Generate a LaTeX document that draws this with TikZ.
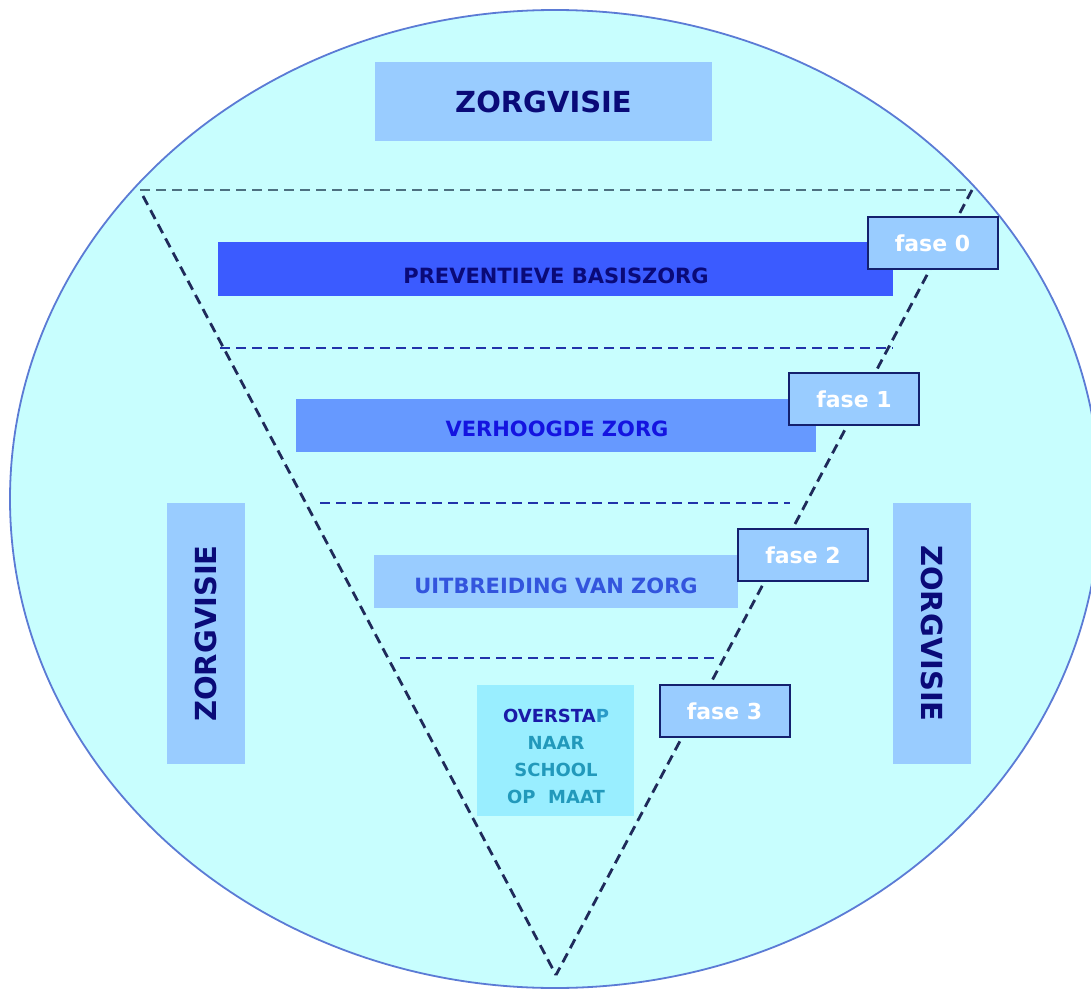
\documentclass[tikz,border=0pt]{standalone}
\usepackage{fontspec}
\setmainfont{DejaVu Sans}
\definecolor{bgc}{HTML}{C8FEFE}
\definecolor{rimc}{HTML}{5B7BD5}
\definecolor{lightbox}{HTML}{99CCFF}
\definecolor{prevc}{HTML}{3B5BFF}
\definecolor{verhc}{HTML}{6699FF}
\definecolor{overc}{HTML}{99EEFF}
\definecolor{navyc}{HTML}{0A0A78}
\definecolor{fasebd}{HTML}{14206E}
\definecolor{verhtxt}{HTML}{1414E0}
\definecolor{uitbtxt}{HTML}{3355DD}
\definecolor{ovtxtA}{HTML}{1A1AA8}
\definecolor{ovtxtB}{HTML}{2A9AC8}
\definecolor{ovtxtC}{HTML}{2299BB}
\definecolor{topdashc}{HTML}{4D7080}
\definecolor{sidedashc}{HTML}{1F2A5A}
\definecolor{middashc}{HTML}{2233AA}
\begin{document}
\begin{tikzpicture}[x=1pt,y=-1pt,
  dashline/.style={line width=2.8pt, dash pattern=on 10pt off 6pt},
  bar/.style={rectangle, draw=none, inner sep=0pt},
  bartext/.style={font=\fontsize{21}{24}\selectfont\bfseries},
  fasebox/.style={rectangle, draw=fasebd, line width=2pt, fill=lightbox, minimum width=130pt, minimum height=52pt, inner sep=0pt, text=white, font=\fontsize{22}{26}\selectfont\bfseries},
  visiebox/.style={rectangle, fill=lightbox, inner sep=0pt, text=navyc, font=\fontsize{29}{32}\selectfont\bfseries},
  visietext/.style={text=navyc, font=\fontsize{29}{32}\selectfont\bfseries}
]
\useasboundingbox (0,0) rectangle (1091,992);
\fill[white] (0,0) rectangle (1091,992);
\draw[fill=bgc, draw=rimc, line width=1.8pt] (555,499) ellipse [x radius=545pt, y radius=489pt];

% dashed funnel
\coordinate (tl) at (140,190);
\coordinate (tr) at (972,190);
\coordinate (tls) at (143,196);
\coordinate (ap) at (556,975);
\coordinate (l1a) at (220,348); \coordinate (l1b) at (893,348);
\coordinate (l2a) at (320,503); \coordinate (l2b) at (790,503);
\coordinate (l3a) at (400,658); \coordinate (l3b) at (715,658);
\draw[dashline, draw=topdashc] (tl) -- (tr);
\draw[dashline, draw=sidedashc] (tls) -- (ap);
\draw[dashline, draw=sidedashc] (tr) -- (ap);
\draw[dashline, draw=middashc] (l1a) -- (l1b);
\draw[dashline, draw=middashc] (l2a) -- (l2b);
\draw[dashline, draw=middashc] (l3a) -- (l3b);

% vision boxes
\node[visiebox, minimum width=337pt, minimum height=79pt] (zvtop) at (543.5,101.5) {ZORGVISIE};
\node[visiebox, minimum width=78pt, minimum height=261pt] (zvleft) at (206,633.5) {};
\node[visietext, rotate=90] (zvlefttxt) at (zvleft.center) {ZORGVISIE};
\node[visiebox, minimum width=78pt, minimum height=261pt] (zvright) at (932,633.5) {};
\node[visietext, rotate=-90] (zvrighttxt) at (zvright.center) {ZORGVISIE};

% bars
\node[bar, fill=prevc, minimum width=675pt, minimum height=54pt] (prev) at (555.5,269) {};
\node[bartext, text=navyc] (prevtxt) at (556,276) {PREVENTIEVE BASISZORG};
\node[bar, fill=verhc, minimum width=520pt, minimum height=53pt] (verh) at (556,425.5) {};
\node[bartext, text=verhtxt] (verhtxt) at (557,429) {VERHOOGDE ZORG};
\node[bar, fill=lightbox, minimum width=364pt, minimum height=53pt] (uitb) at (556,581.5) {};
\node[bartext, text=uitbtxt] (uitbtxtn) at (556,586) {UITBREIDING VAN ZORG};
\node[bar, fill=overc, minimum width=157pt, minimum height=131pt] (over) at (555.5,750.5) {};
\node[align=center, font=\fontsize{18}{27}\selectfont\bfseries] (overtxt) at (556,756)
  {{\color{ovtxtA}OVERSTA}{\color{ovtxtB}P}\\{\color{ovtxtC}NAAR}\\{\color{ovtxtC}SCHOOL}\\{\color{ovtxtC}OP\ \ MAAT}};

% fase boxes
\node[fasebox] (f0) at (932.5,243) {fase 0};
\node[fasebox] (f1) at (854,399) {fase 1};
\node[fasebox] (f2) at (803,555) {fase 2};
\node[fasebox] (f3) at (724.5,711) {fase 3};
\end{tikzpicture}
\end{document}
